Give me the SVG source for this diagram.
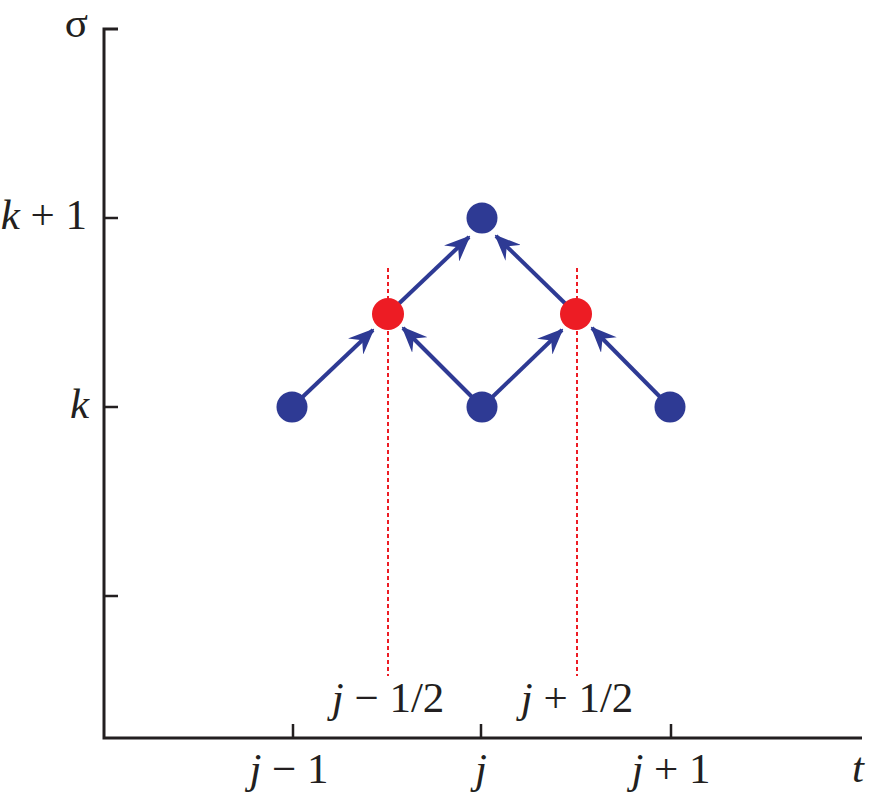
<svg xmlns="http://www.w3.org/2000/svg" width="869" height="797" viewBox="0 0 869 797">
<defs>
<style>
.ax{stroke:#231f20;stroke-width:3;fill:none}
.tk{stroke:#231f20;stroke-width:2.5;fill:none}
.lb{font-family:"Liberation Serif","Times New Roman",serif;font-size:43px;fill:#231f20}
.it{font-style:italic}
.dash{stroke:#ed1c24;stroke-width:2;stroke-dasharray:4 3;fill:none}
.edge{stroke:#2e3a94;stroke-width:4;fill:none}
.blue{fill:#2e3a94}
.red{fill:#ed1c24}
</style>
<marker id="ah" viewBox="0 0 26 22" refX="24" refY="11" markerWidth="26" markerHeight="22" markerUnits="userSpaceOnUse" orient="auto">
<path d="M0,0 L26,11 L0,22 L9,11 Z" fill="#2e3a94"/>
</marker>
</defs>
<g id="axes">
<path class="ax" d="M118,29 H104 V738 H862"/>
<path class="tk" d="M104,218 H118 M104,407 H118 M104,596 H118"/>
<path class="tk" d="M293,738 V724 M481,738 V724 M671,738 V724"/>
<text class="lb" x="88" y="37" text-anchor="end">σ</text>
<text class="lb" x="87" y="229" text-anchor="end"><tspan class="it">k</tspan> + 1</text>
<text class="lb it" x="89" y="418" text-anchor="end">k</text>
<text class="lb" x="289" y="783" text-anchor="middle"><tspan class="it">j</tspan> − 1</text>
<text class="lb it" x="481" y="783" text-anchor="middle">j</text>
<text class="lb" x="671" y="783" text-anchor="middle"><tspan class="it">j</tspan> + 1</text>
<text class="lb it" x="858" y="782" text-anchor="middle">t</text>
<text class="lb" x="388" y="712" text-anchor="middle"><tspan class="it">j</tspan> − 1/2</text>
<text class="lb" x="577" y="712" text-anchor="middle"><tspan class="it">j</tspan> + 1/2</text>
</g>
<g id="guides">
<line class="dash" x1="388" y1="268" x2="388" y2="676"/>
<line class="dash" x1="577" y1="268" x2="577" y2="676"/>
</g>
<g id="connectors">
<line class="edge" x1="292" y1="407" x2="373" y2="330" marker-end="url(#ah)"/>
<line class="edge" x1="388" y1="314" x2="469" y2="237" marker-end="url(#ah)"/>
<line class="edge" x1="576" y1="314" x2="496" y2="236" marker-end="url(#ah)"/>
<line class="edge" x1="482" y1="407" x2="403" y2="328" marker-end="url(#ah)"/>
<line class="edge" x1="482" y1="407" x2="562" y2="330" marker-end="url(#ah)"/>
<line class="edge" x1="670" y1="407" x2="592" y2="328" marker-end="url(#ah)"/>
</g>
<g id="n-jm1-k"><circle class="blue" cx="292" cy="407" r="15.5"/></g>
<g id="n-j-k"><circle class="blue" cx="482" cy="407" r="15.5"/></g>
<g id="n-jp1-k"><circle class="blue" cx="670" cy="407" r="15.5"/></g>
<g id="n-j-k1"><circle class="blue" cx="482" cy="218" r="15.5"/></g>
<g id="n-jmh"><circle class="red" cx="388" cy="314" r="16"/></g>
<g id="n-jph"><circle class="red" cx="576" cy="314" r="16"/></g>
</svg>
